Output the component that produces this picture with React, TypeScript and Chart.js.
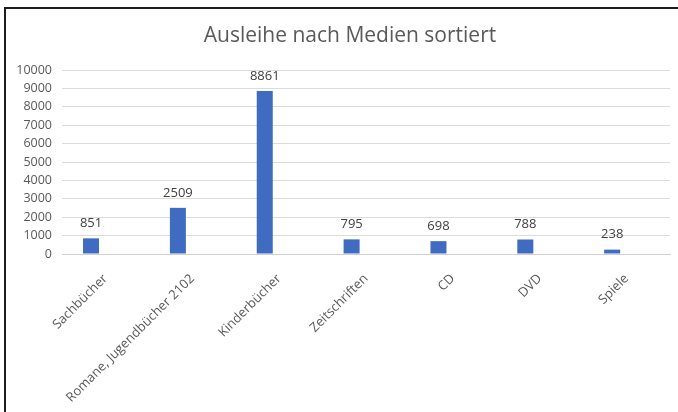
import React, { useEffect, useRef } from "react";
import { Chart, registerables } from "chart.js";

Chart.register(...registerables);

const TITLE = "Ausleihe nach Medien sortiert";
const categories = [
  "Sachbücher",
  "Romane, Jugendbücher 2102",
  "Kinderbücher",
  "Zeitschriften",
  "CD",
  "DVD",
  "Spiele",
];
const ausleihe = [851, 2509, 8861, 795, 698, 788, 238];
const emptySeries: (number | null)[] = [null, null, null, null, null, null, null];
const yTicksMin = 0;
const yTicksMax = 10000;
const yTicksStep = 1000;

const TEXT = "#595959";
const FONT = "'Open Sans', sans-serif";

const valueLabels = {
  id: "valueLabels",
  afterDatasetsDraw(chart: any) {
    const ctx = chart.ctx;
    const meta = chart.getDatasetMeta(0);
    const data = chart.data.datasets[0].data as number[];
    ctx.save();
    ctx.font = `13px ${FONT}`;
    ctx.fillStyle = "#404040";
    ctx.textAlign = "center";
    ctx.textBaseline = "middle";
    meta.data.forEach((bar: any, i: number) => {
      ctx.fillText(String(data[i]), bar.x, bar.y - 15);
    });
    ctx.restore();
  },
};

export default function App() {
  const ref = useRef<HTMLCanvasElement>(null);
  useEffect(() => {
    if (!ref.current) return;
    const chart = new Chart(ref.current, {
      type: "bar",
      data: {
        labels: categories,
        datasets: [
          {
            label: "Ausleihe",
            data: ausleihe,
            backgroundColor: "#3F6BC0",
            categoryPercentage: 0.663,
            barPercentage: 0.556,
          },
          {
            label: "",
            data: emptySeries,
            backgroundColor: "#ED7D31",
            categoryPercentage: 0.663,
            barPercentage: 0.556,
          },
        ],
      },
      options: {
        animation: false,
        responsive: false,
        layout: { padding: { left: 0, right: 8, top: 70, bottom: 0 } },
        plugins: {
          legend: { display: false },
          tooltip: { enabled: false },
          title: { display: false },
        },
        scales: {
          x: {
            type: "category",
            grid: { display: false },
            border: { display: true, color: "#d0d0d0", width: 1 },
            ticks: {
              color: TEXT,
              font: { family: FONT, size: 13 },
              minRotation: 45,
              maxRotation: 45,
              autoSkip: false,
              padding: 9,
            },
            afterFit: (s: any) => {
              s.height = 158;
            },
          },
          y: {
            min: yTicksMin,
            max: yTicksMax,
            grid: { color: "#dcdcdc", drawTicks: false },
            border: { display: false },
            ticks: {
              stepSize: yTicksStep,
              autoSkip: false,
              color: TEXT,
              font: { family: FONT, size: 12.5 },
              padding: 10,
              callback: (v: any) => String(v),
            },
            afterFit: (s: any) => {
              s.width = 62;
            },
          },
        },
      },
      plugins: [valueLabels],
    });
    return () => chart.destroy();
  }, []);

  return (
    <div
      style={{
        position: "fixed",
        left: 0,
        top: 0,
        width: 678,
        height: 412,
        background: "#fff",
        overflow: "hidden",
      }}
    >
      <canvas
        ref={ref}
        width={678}
        height={412}
        style={{ position: "absolute", left: 0, top: 0, display: "block" }}
      />
      <div
        style={{
          position: "absolute",
          left: 0,
          top: 20,
          width: 700,
          height: 28,
          lineHeight: "28px",
          textAlign: "center",
          fontFamily: FONT,
          fontSize: 21,
          color: TEXT,
          whiteSpace: "nowrap",
        }}
      >
        {TITLE}
      </div>
      <div
        style={{
          position: "absolute",
          left: 4,
          top: 7,
          right: -10,
          bottom: -10,
          borderLeft: "2px solid #1e1e1e",
          borderTop: "2px solid #1e1e1e",
          pointerEvents: "none",
        }}
      />
    </div>
  );
}
